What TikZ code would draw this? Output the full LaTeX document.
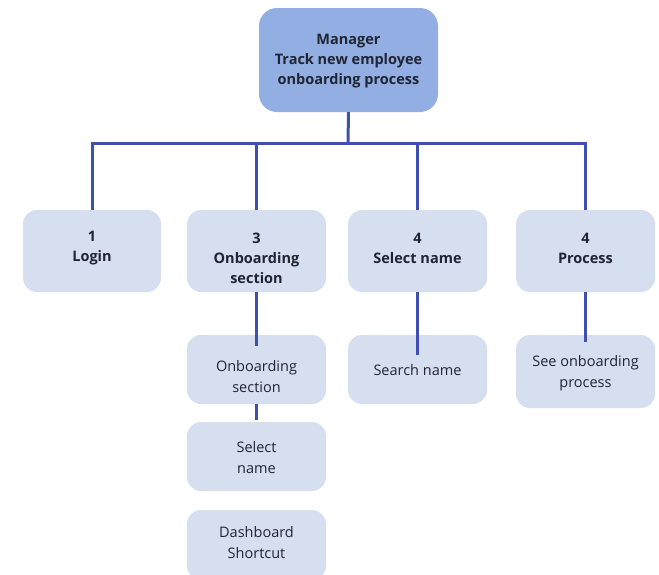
\documentclass[tikz,border=0pt]{standalone}
\usepackage{fontspec}
\setmainfont{Open Sans}
\definecolor{topfill}{HTML}{93AEE3}
\definecolor{boxfill}{HTML}{D5DFF0}
\definecolor{linecol}{HTML}{3F4FB0}
\definecolor{txt}{HTML}{1F2533}
\begin{document}
\begin{tikzpicture}[x=1pt,y=-1pt,
  box/.style={fill=boxfill, draw=none, rounded corners=14pt, inner sep=0pt},
  topbox/.style={box, fill=topfill, rounded corners=18pt},
  headtxt/.style={text=txt, align=center, inner sep=0pt, font=\bfseries\fontsize{14.5}{20}\selectfont},
  subtxt/.style={text=txt, align=center, inner sep=0pt, font=\fontsize{14.5}{21}\selectfont},
  conn/.style={draw=linecol, line width=3pt}]
\useasboundingbox (0,0) rectangle (659,574);
\begin{scope}
\clip (0,0) rectangle (659,574);
\node[topbox, minimum width=179pt, minimum height=104pt] (top) at (348.5,60) {};
\node[box, minimum width=138pt, minimum height=82pt] (login) at (92,251) {};
\node[box, minimum width=139pt, minimum height=82pt] (onb) at (256.5,251) {};
\node[box, minimum width=139pt, minimum height=82pt] (sel) at (417.5,251) {};
\node[box, minimum width=139pt, minimum height=82pt] (proc) at (585.5,251) {};
\node[box, minimum width=139pt, minimum height=69pt] (onbsec) at (256.5,369.5) {};
\node[box, minimum width=139pt, minimum height=69pt] (selname) at (256.5,456.5) {};
\node[box, minimum width=139pt, minimum height=70pt] (dash) at (256.5,545) {};
\node[box, minimum width=139pt, minimum height=69pt] (search) at (417.5,369.5) {};
\node[box, minimum width=139pt, minimum height=73pt] (see) at (585.5,371.5) {};
\end{scope}
\node[headtxt] (top-t) at (348.5,61.5) {Manager\\Track new employee\\onboarding process};
\node[headtxt] (login-t) at (92,248.5) {1\\Login};
\node[headtxt] (onb-t) at (256.5,258.5) {3\\Onboarding\\section};
\node[headtxt] (sel-t) at (417.5,248.5) {4\\Select name};
\node[headtxt] (proc-t) at (585.5,248.5) {4\\Process};
\node[subtxt] (onbsec-t) at (256.5,377) {Onboarding\\section};
\node[subtxt] (selname-t) at (256.5,458) {Select\\name};
\node[subtxt] (dash-t) at (256.5,543) {Dashboard\\Shortcut};
\node[subtxt] (search-t) at (417.5,370.5) {Search name};
\node[subtxt] (see-t) at (585.5,373) {See onboarding\\process};
\coordinate (bus) at (348,143);
\draw[conn] (top.south) -- (bus);
\draw[conn] (login.north) -- (login.north |- bus) -- (proc.north |- bus) -- (proc.north);
\draw[conn] (onb.north) -- (onb.north |- bus);
\draw[conn] (sel.north) -- (sel.north |- bus);
\draw[conn] (onb.south) -- ([yshift=-11pt]onbsec.north);
\draw[conn] (onbsec.south) -- ([yshift=2pt]selname.north);
\draw[conn] (sel.south) -- ([yshift=-20pt]search.north);
\draw[conn] (proc.south) -- ([yshift=-7pt]see.north);
\end{tikzpicture}
\end{document}
